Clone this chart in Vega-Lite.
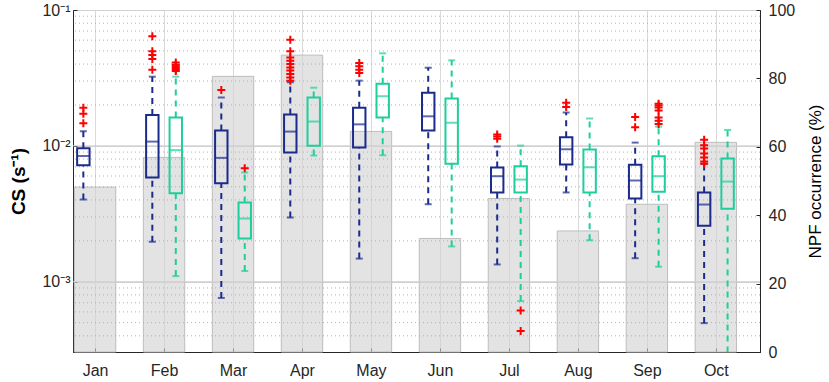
{
  "$schema": "https://vega.github.io/schema/vega-lite/v6.json",
  "width": 687,
  "height": 342,
  "autosize": "none",
  "padding": {"left": 73, "top": 10, "right": 69, "bottom": 30},
  "background": "white",
  "config": {
    "view": {"stroke": "#262626", "strokeWidth": 1},
    "axis": {"labelFont": "Liberation Sans", "titleFont": "Liberation Sans", "labelColor": "#262626", "titleColor": "#000000", "domainColor": "#262626", "tickColor": "#262626", "labelFontSize": 16, "tickSize": -4}
  },
  "datasets": {
    "npf": [
      {"month": 1, "npf": 48.2}, {"month": 2, "npf": 56.9}, {"month": 3, "npf": 80.6}, {"month": 4, "npf": 86.8}, {"month": 5, "npf": 64.5},
      {"month": 6, "npf": 33.2}, {"month": 7, "npf": 44.9}, {"month": 8, "npf": 35.4}, {"month": 9, "npf": 43.2}, {"month": 10, "npf": 61.3}
    ],
    "major": [{"v": 0.001}, {"v": 0.01}],
    "minor": [
      {"v": 0.0004}, {"v": 0.0005}, {"v": 0.0006}, {"v": 0.0007}, {"v": 0.0008}, {"v": 0.0009},
      {"v": 0.002}, {"v": 0.003}, {"v": 0.004}, {"v": 0.005}, {"v": 0.006}, {"v": 0.007}, {"v": 0.008}, {"v": 0.009},
      {"v": 0.02}, {"v": 0.03}, {"v": 0.04}, {"v": 0.05}, {"v": 0.06}, {"v": 0.07}, {"v": 0.08}, {"v": 0.09}
    ],
    "boxes": [
      {"m": 1, "g": "A", "lo": 0.00403, "q1": 0.0072, "med": 0.00844, "q3": 0.0096, "hi": 0.0128},
      {"m": 2, "g": "A", "lo": 0.00197, "q1": 0.00585, "med": 0.01075, "q3": 0.0169, "hi": 0.0323},
      {"m": 2, "g": "B", "lo": 0.0011, "q1": 0.00448, "med": 0.0093, "q3": 0.0162, "hi": 0.0323},
      {"m": 3, "g": "A", "lo": 0.00076, "q1": 0.00531, "med": 0.00816, "q3": 0.013, "hi": 0.0227},
      {"m": 3, "g": "B", "lo": 0.0012, "q1": 0.00208, "med": 0.00292, "q3": 0.00383, "hi": 0.00637},
      {"m": 4, "g": "A", "lo": 0.00297, "q1": 0.00893, "med": 0.01274, "q3": 0.017, "hi": 0.0294},
      {"m": 4, "g": "B", "lo": 0.0085, "q1": 0.01, "med": 0.0151, "q3": 0.0227, "hi": 0.0268},
      {"m": 5, "g": "A", "lo": 0.00148, "q1": 0.00972, "med": 0.0144, "q3": 0.0191, "hi": 0.0302},
      {"m": 5, "g": "B", "lo": 0.00853, "q1": 0.0162, "med": 0.0232, "q3": 0.0287, "hi": 0.048},
      {"m": 6, "g": "A", "lo": 0.00372, "q1": 0.013, "med": 0.0165, "q3": 0.0246, "hi": 0.0376},
      {"m": 6, "g": "B", "lo": 0.00182, "q1": 0.0074, "med": 0.0148, "q3": 0.0223, "hi": 0.0426},
      {"m": 7, "g": "A", "lo": 0.00134, "q1": 0.00454, "med": 0.00598, "q3": 0.00692, "hi": 0.0099},
      {"m": 7, "g": "B", "lo": 0.00072, "q1": 0.00454, "med": 0.00565, "q3": 0.00708, "hi": 0.01005},
      {"m": 8, "g": "A", "lo": 0.00454, "q1": 0.00729, "med": 0.00944, "q3": 0.01157, "hi": 0.0176},
      {"m": 8, "g": "B", "lo": 0.00202, "q1": 0.00454, "med": 0.00696, "q3": 0.0094, "hi": 0.0159},
      {"m": 9, "g": "A", "lo": 0.00149, "q1": 0.0041, "med": 0.00556, "q3": 0.00725, "hi": 0.01057},
      {"m": 9, "g": "B", "lo": 0.00129, "q1": 0.00459, "med": 0.00598, "q3": 0.00839, "hi": 0.01387},
      {"m": 10, "g": "A", "lo": 0.000496, "q1": 0.00258, "med": 0.0037, "q3": 0.00454, "hi": 0.00738},
      {"m": 10, "g": "B", "lo": 0.00025, "q1": 0.00344, "med": 0.00546, "q3": 0.00807, "hi": 0.0131}
    ],
    "outliers": [
      {"m": 1, "g": "A", "v": 0.0191}, {"m": 1, "g": "A", "v": 0.0172}, {"m": 1, "g": "A", "v": 0.0147},
      {"m": 2, "g": "A", "v": 0.064}, {"m": 2, "g": "A", "v": 0.0496}, {"m": 2, "g": "A", "v": 0.0467}, {"m": 2, "g": "A", "v": 0.0436}, {"m": 2, "g": "A", "v": 0.0363},
      {"m": 2, "g": "B", "v": 0.0355}, {"m": 2, "g": "B", "v": 0.0365}, {"m": 2, "g": "B", "v": 0.0375}, {"m": 2, "g": "B", "v": 0.0385}, {"m": 2, "g": "B", "v": 0.0395}, {"m": 2, "g": "B", "v": 0.041},
      {"m": 3, "g": "A", "v": 0.0258},
      {"m": 3, "g": "B", "v": 0.00684},
      {"m": 4, "g": "A", "v": 0.0605}, {"m": 4, "g": "A", "v": 0.0496}, {"m": 4, "g": "A", "v": 0.0448}, {"m": 4, "g": "A", "v": 0.0424}, {"m": 4, "g": "A", "v": 0.0401},
      {"m": 4, "g": "A", "v": 0.0378}, {"m": 4, "g": "A", "v": 0.0358}, {"m": 4, "g": "A", "v": 0.0338}, {"m": 4, "g": "A", "v": 0.0319}, {"m": 4, "g": "A", "v": 0.0302},
      {"m": 5, "g": "A", "v": 0.0408}, {"m": 5, "g": "A", "v": 0.0385}, {"m": 5, "g": "A", "v": 0.0364}, {"m": 5, "g": "A", "v": 0.0344},
      {"m": 7, "g": "A", "v": 0.0113}, {"m": 7, "g": "A", "v": 0.0117}, {"m": 7, "g": "A", "v": 0.0121},
      {"m": 7, "g": "B", "v": 0.000615}, {"m": 7, "g": "B", "v": 0.000434},
      {"m": 8, "g": "A", "v": 0.0208}, {"m": 8, "g": "A", "v": 0.0193},
      {"m": 9, "g": "A", "v": 0.0163}, {"m": 9, "g": "A", "v": 0.0137},
      {"m": 9, "g": "B", "v": 0.0204}, {"m": 9, "g": "B", "v": 0.0198}, {"m": 9, "g": "B", "v": 0.0192}, {"m": 9, "g": "B", "v": 0.0182}, {"m": 9, "g": "B", "v": 0.0162}, {"m": 9, "g": "B", "v": 0.0153}, {"m": 9, "g": "B", "v": 0.0145},
      {"m": 10, "g": "A", "v": 0.0111}, {"m": 10, "g": "A", "v": 0.0101}, {"m": 10, "g": "A", "v": 0.00955}, {"m": 10, "g": "A", "v": 0.0088}, {"m": 10, "g": "A", "v": 0.0082}, {"m": 10, "g": "A", "v": 0.00767}, {"m": 10, "g": "A", "v": 0.0074}
    ]
  },
  "layer": [
    {
      "data": {"name": "npf"},
      "transform": [
        {"calculate": "datum.month - 0.3", "as": "b0"},
        {"calculate": "datum.month + 0.3", "as": "b1"}
      ],
      "mark": {"type": "rect", "fill": "#d2d2d2", "fillOpacity": 0.62, "stroke": "#bdbdbd", "strokeWidth": 1},
      "encoding": {
        "x": {"field": "b0", "type": "quantitative", "title": null, "scale": {"domain": [0.68, 10.64], "nice": false, "zero": false},
          "axis": {"orient": "bottom", "values": [1, 2, 3, 4, 5, 6, 7, 8, 9, 10], "labelExpr": "['Jan','Feb','Mar','Apr','May','Jun','Jul','Aug','Sep','Oct'][datum.value - 1]", "grid": true, "gridColor": "#d9d9d9", "labelPadding": 14, "labelFlush": false}},
        "x2": {"field": "b1"},
        "y": {"field": "npf", "type": "quantitative",
          "scale": {"domain": [0, 100], "nice": false},
          "axis": {"orient": "right", "values": [0, 20, 40, 60, 80, 100], "grid": false, "labelPadding": 12,
            "title": "NPF occurrence (%)", "titleFontSize": 17, "titleFontWeight": "normal", "titleAngle": 270, "titleBaseline": "top", "titlePadding": 13}},
        "y2": {"datum": 0}
      }
    },
    {
      "layer": [
        {
          "data": {"name": "minor"},
          "mark": {"type": "rule", "color": "#b0b0b0", "strokeWidth": 1, "strokeDash": [1, 3]},
          "encoding": {
            "y": {"field": "v", "type": "quantitative", "title": "CS (s⁻¹)", "scale": {"type": "log", "domain": [0.000304, 0.1], "nice": false},
              "axis": {"orient": "left", "values": [0.001, 0.01, 0.1], "labelExpr": "datum.value >= 0.09 ? '10⁻¹' : datum.value >= 0.009 ? '10⁻²' : '10⁻³'", "grid": true, "gridColor": "#d0d0d0", "labelPadding": 7, "titleFontSize": 19, "titleFontWeight": "bold", "titlePadding": 13}}
          }
        },
        {
          "data": {"name": "major"},
          "mark": {"type": "rule", "color": "#cfcfcf", "strokeWidth": 1},
          "encoding": {
            "y": {"field": "v", "type": "quantitative", "title": "CS (s⁻¹)", "scale": {"type": "log", "domain": [0.000304, 0.1], "nice": false},
              "axis": {"orient": "left", "values": [0.001, 0.01, 0.1], "labelExpr": "datum.value >= 0.09 ? '10⁻¹' : datum.value >= 0.009 ? '10⁻²' : '10⁻³'", "grid": true, "gridColor": "#d0d0d0", "labelPadding": 7, "titleFontSize": 19, "titleFontWeight": "bold", "titlePadding": 13}}
          }
        },
        {
          "data": {"name": "boxes"},
          "transform": [
            {"calculate": "datum.m + (datum.g == 'A' ? -0.17 : 0.17)", "as": "pos"},
            {"calculate": "datum.pos - 0.09", "as": "x0"},
            {"calculate": "datum.pos + 0.09", "as": "x1"}
          ],
          "layer": [
            {
              "mark": {"type": "rule", "strokeWidth": 2, "strokeDash": [6, 5], "clip": true},
              "encoding": {
                "x": {"field": "pos", "type": "quantitative", "title": null, "scale": {"domain": [0.68, 10.64], "nice": false, "zero": false},
                  "axis": {"orient": "bottom", "values": [1, 2, 3, 4, 5, 6, 7, 8, 9, 10], "labelExpr": "['Jan','Feb','Mar','Apr','May','Jun','Jul','Aug','Sep','Oct'][datum.value - 1]", "grid": true, "gridColor": "#d9d9d9", "labelPadding": 14, "labelFlush": false}},
                "y": {"field": "lo", "type": "quantitative", "title": "CS (s⁻¹)", "scale": {"type": "log", "domain": [0.000304, 0.1], "nice": false},
                  "axis": {"orient": "left", "values": [0.001, 0.01, 0.1], "labelExpr": "datum.value >= 0.09 ? '10⁻¹' : datum.value >= 0.009 ? '10⁻²' : '10⁻³'", "grid": true, "gridColor": "#d0d0d0", "labelPadding": 7, "titleFontSize": 19, "titleFontWeight": "bold", "titlePadding": 13}},
                "y2": {"field": "q1"},
                "color": {"field": "g", "type": "nominal", "scale": {"domain": ["A", "B"], "range": ["#1b2b8c", "#1ecf9b"]}, "legend": null}
              }
            },
            {
              "mark": {"type": "rule", "strokeWidth": 2, "strokeDash": [6, 5], "clip": true},
              "encoding": {
                "x": {"field": "pos", "type": "quantitative", "title": null, "scale": {"domain": [0.68, 10.64], "nice": false, "zero": false},
                  "axis": {"orient": "bottom", "values": [1, 2, 3, 4, 5, 6, 7, 8, 9, 10], "labelExpr": "['Jan','Feb','Mar','Apr','May','Jun','Jul','Aug','Sep','Oct'][datum.value - 1]", "grid": true, "gridColor": "#d9d9d9", "labelPadding": 14, "labelFlush": false}},
                "y": {"field": "q3", "type": "quantitative", "title": "CS (s⁻¹)", "scale": {"type": "log", "domain": [0.000304, 0.1], "nice": false},
                  "axis": {"orient": "left", "values": [0.001, 0.01, 0.1], "labelExpr": "datum.value >= 0.09 ? '10⁻¹' : datum.value >= 0.009 ? '10⁻²' : '10⁻³'", "grid": true, "gridColor": "#d0d0d0", "labelPadding": 7, "titleFontSize": 19, "titleFontWeight": "bold", "titlePadding": 13}},
                "y2": {"field": "hi"},
                "color": {"field": "g", "type": "nominal", "scale": {"domain": ["A", "B"], "range": ["#1b2b8c", "#1ecf9b"]}, "legend": null}
              }
            },
            {
              "mark": {"type": "tick", "orient": "horizontal", "size": 7, "thickness": 2, "clip": true},
              "encoding": {
                "x": {"field": "pos", "type": "quantitative", "title": null, "scale": {"domain": [0.68, 10.64], "nice": false, "zero": false},
                  "axis": {"orient": "bottom", "values": [1, 2, 3, 4, 5, 6, 7, 8, 9, 10], "labelExpr": "['Jan','Feb','Mar','Apr','May','Jun','Jul','Aug','Sep','Oct'][datum.value - 1]", "grid": true, "gridColor": "#d9d9d9", "labelPadding": 14, "labelFlush": false}},
                "y": {"field": "lo", "type": "quantitative", "title": "CS (s⁻¹)", "scale": {"type": "log", "domain": [0.000304, 0.1], "nice": false},
                  "axis": {"orient": "left", "values": [0.001, 0.01, 0.1], "labelExpr": "datum.value >= 0.09 ? '10⁻¹' : datum.value >= 0.009 ? '10⁻²' : '10⁻³'", "grid": true, "gridColor": "#d0d0d0", "labelPadding": 7, "titleFontSize": 19, "titleFontWeight": "bold", "titlePadding": 13}},
                "color": {"field": "g", "type": "nominal", "scale": {"domain": ["A", "B"], "range": ["#1b2b8c", "#1ecf9b"]}, "legend": null}
              }
            },
            {
              "mark": {"type": "tick", "orient": "horizontal", "size": 7, "thickness": 2, "clip": true},
              "encoding": {
                "x": {"field": "pos", "type": "quantitative", "title": null, "scale": {"domain": [0.68, 10.64], "nice": false, "zero": false},
                  "axis": {"orient": "bottom", "values": [1, 2, 3, 4, 5, 6, 7, 8, 9, 10], "labelExpr": "['Jan','Feb','Mar','Apr','May','Jun','Jul','Aug','Sep','Oct'][datum.value - 1]", "grid": true, "gridColor": "#d9d9d9", "labelPadding": 14, "labelFlush": false}},
                "y": {"field": "hi", "type": "quantitative", "title": "CS (s⁻¹)", "scale": {"type": "log", "domain": [0.000304, 0.1], "nice": false},
                  "axis": {"orient": "left", "values": [0.001, 0.01, 0.1], "labelExpr": "datum.value >= 0.09 ? '10⁻¹' : datum.value >= 0.009 ? '10⁻²' : '10⁻³'", "grid": true, "gridColor": "#d0d0d0", "labelPadding": 7, "titleFontSize": 19, "titleFontWeight": "bold", "titlePadding": 13}},
                "color": {"field": "g", "type": "nominal", "scale": {"domain": ["A", "B"], "range": ["#1b2b8c", "#1ecf9b"]}, "legend": null}
              }
            },
            {
              "mark": {"type": "rect", "filled": false, "strokeWidth": 2},
              "encoding": {
                "x": {"field": "x0", "type": "quantitative", "title": null, "scale": {"domain": [0.68, 10.64], "nice": false, "zero": false},
                  "axis": {"orient": "bottom", "values": [1, 2, 3, 4, 5, 6, 7, 8, 9, 10], "labelExpr": "['Jan','Feb','Mar','Apr','May','Jun','Jul','Aug','Sep','Oct'][datum.value - 1]", "grid": true, "gridColor": "#d9d9d9", "labelPadding": 14, "labelFlush": false}},
                "x2": {"field": "x1"},
                "y": {"field": "q1", "type": "quantitative", "title": "CS (s⁻¹)", "scale": {"type": "log", "domain": [0.000304, 0.1], "nice": false},
                  "axis": {"orient": "left", "values": [0.001, 0.01, 0.1], "labelExpr": "datum.value >= 0.09 ? '10⁻¹' : datum.value >= 0.009 ? '10⁻²' : '10⁻³'", "grid": true, "gridColor": "#d0d0d0", "labelPadding": 7, "titleFontSize": 19, "titleFontWeight": "bold", "titlePadding": 13}},
                "y2": {"field": "q3"},
                "color": {"field": "g", "type": "nominal", "scale": {"domain": ["A", "B"], "range": ["#1b2b8c", "#1ecf9b"]}, "legend": null}
              }
            },
            {
              "mark": {"type": "tick", "orient": "horizontal", "size": 13, "thickness": 2},
              "encoding": {
                "x": {"field": "pos", "type": "quantitative", "title": null, "scale": {"domain": [0.68, 10.64], "nice": false, "zero": false},
                  "axis": {"orient": "bottom", "values": [1, 2, 3, 4, 5, 6, 7, 8, 9, 10], "labelExpr": "['Jan','Feb','Mar','Apr','May','Jun','Jul','Aug','Sep','Oct'][datum.value - 1]", "grid": true, "gridColor": "#d9d9d9", "labelPadding": 14, "labelFlush": false}},
                "y": {"field": "med", "type": "quantitative", "title": "CS (s⁻¹)", "scale": {"type": "log", "domain": [0.000304, 0.1], "nice": false},
                  "axis": {"orient": "left", "values": [0.001, 0.01, 0.1], "labelExpr": "datum.value >= 0.09 ? '10⁻¹' : datum.value >= 0.009 ? '10⁻²' : '10⁻³'", "grid": true, "gridColor": "#d0d0d0", "labelPadding": 7, "titleFontSize": 19, "titleFontWeight": "bold", "titlePadding": 13}},
                "color": {"field": "g", "type": "nominal", "scale": {"domain": ["A", "B"], "range": ["#1b2b8c", "#1ecf9b"]}, "legend": null}
              }
            }
          ]
        },
        {
          "data": {"name": "outliers"},
          "transform": [
            {"calculate": "datum.m + (datum.g == 'A' ? -0.17 : 0.17)", "as": "pos"}
          ],
          "mark": {"type": "point", "shape": "M-1,0L1,0M0,-1L0,1", "size": 64, "filled": false, "stroke": "#ff0000", "strokeWidth": 2, "opacity": 1},
          "encoding": {
            "x": {"field": "pos", "type": "quantitative", "title": null, "scale": {"domain": [0.68, 10.64], "nice": false, "zero": false},
              "axis": {"orient": "bottom", "values": [1, 2, 3, 4, 5, 6, 7, 8, 9, 10], "labelExpr": "['Jan','Feb','Mar','Apr','May','Jun','Jul','Aug','Sep','Oct'][datum.value - 1]", "grid": true, "gridColor": "#d9d9d9", "labelPadding": 14, "labelFlush": false}},
            "y": {"field": "v", "type": "quantitative", "title": "CS (s⁻¹)", "scale": {"type": "log", "domain": [0.000304, 0.1], "nice": false},
              "axis": {"orient": "left", "values": [0.001, 0.01, 0.1], "labelExpr": "datum.value >= 0.09 ? '10⁻¹' : datum.value >= 0.009 ? '10⁻²' : '10⁻³'", "grid": true, "gridColor": "#d0d0d0", "labelPadding": 7, "titleFontSize": 19, "titleFontWeight": "bold", "titlePadding": 13}}
          }
        }
      ]
    }
  ],
  "resolve": {"scale": {"y": "independent"}, "axis": {"y": "independent"}}
}
